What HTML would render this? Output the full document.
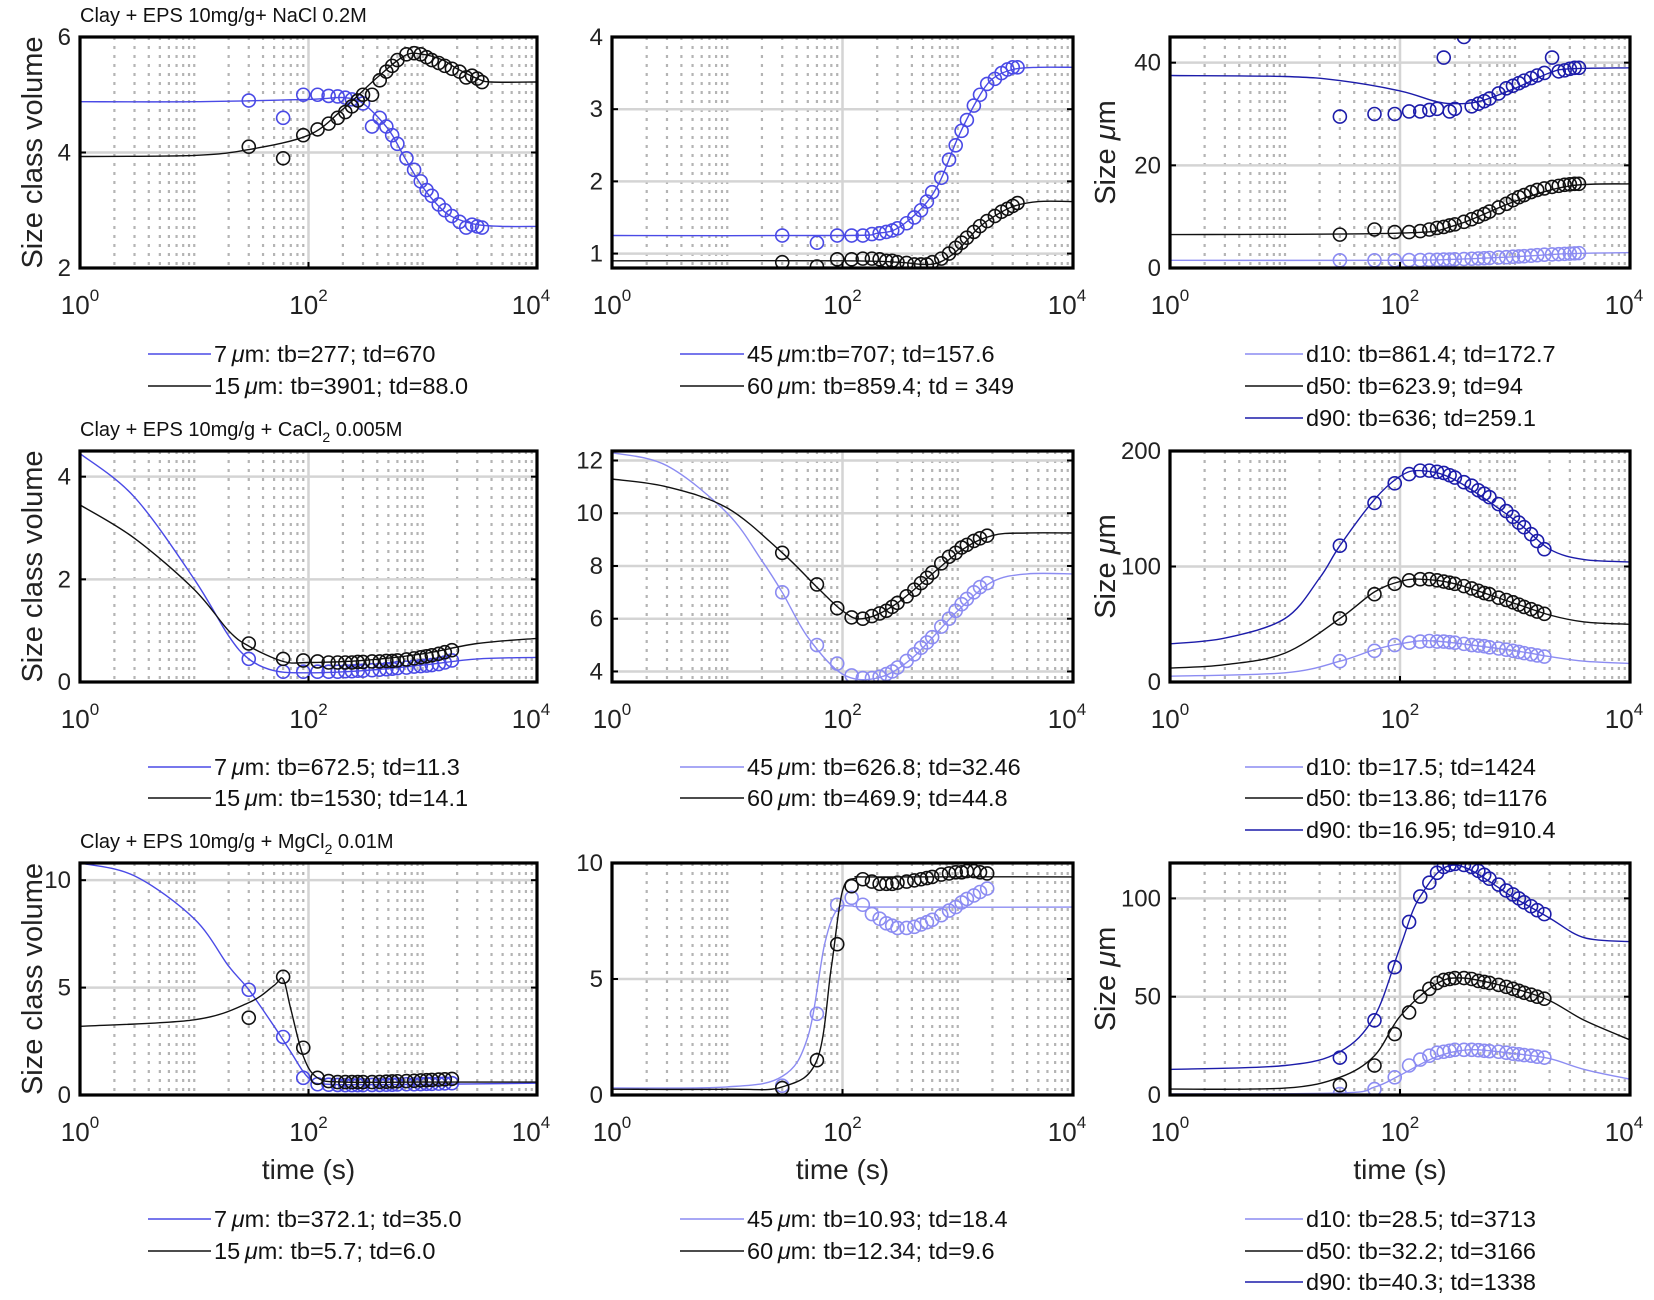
<!DOCTYPE html>
<html><head><meta charset="utf-8"><style>
html,body{margin:0;padding:0;background:#fff;}
svg{display:block;font-family:"Liberation Sans",sans-serif;}
</style></head><body>
<svg id="fig" width="1654" height="1300" viewBox="0 0 1654 1300" xmlns="http://www.w3.org/2000/svg"></svg>
<script>
// ---------- Data ----------
const T1=[30,60,90,120,150,180,210,240,270,300,360,420,480,540,600,720,840,960,1080,1200,1380,1560,1800,2100,2400,2700,3000,3300];
const T1b=[30,60,90,120,150,180,210,240,270,300,360,420,480,540,600,720,840,960,1080,1200,1380,1560,1800,2100,2400,2700,3000,3300,3600];
const T2=[30,60,90,120,150,180,210,240,270,300,360,420,480,540,600,720,840,960,1080,1200,1380,1560,1800];
const xTickLabels=["0","2","4"];

// Row 1 col 1
const r1c1_7um=[4.9,4.6,5.0,5.0,4.98,4.97,4.95,4.92,4.9,4.85,4.45,4.6,4.45,4.3,4.15,3.9,3.7,3.5,3.35,3.25,3.1,3.0,2.9,2.8,2.7,2.75,2.72,2.7];
const r1c1_15um=[4.1,3.9,4.3,4.4,4.5,4.6,4.7,4.8,4.9,5.0,5.0,5.25,5.4,5.5,5.6,5.7,5.72,5.7,5.65,5.6,5.55,5.5,5.45,5.4,5.3,5.33,5.28,5.22];
const r1c1_7um_fitT=[1,10,100,200,300,500,700,1000,1500,2000,3000,5000,10000];
const r1c1_7um_fit=[4.88,4.88,4.92,4.95,4.85,4.4,3.9,3.4,3.0,2.85,2.75,2.72,2.72];
const r1c1_15um_fitT=[1,10,30,100,200,400,700,1000,1500,2000,3000,4000,10000];
const r1c1_15um_fit=[3.93,3.95,4.05,4.3,4.75,5.3,5.68,5.7,5.6,5.45,5.28,5.22,5.22];
// Row 1 col 2
const r1c2_45um=[1.25,1.15,1.25,1.25,1.25,1.27,1.28,1.3,1.32,1.35,1.42,1.5,1.6,1.72,1.85,2.05,2.3,2.5,2.7,2.85,3.05,3.2,3.35,3.42,3.5,3.55,3.58,3.58];
const r1c2_60um=[0.88,0.82,0.92,0.92,0.93,0.93,0.92,0.9,0.9,0.88,0.87,0.85,0.85,0.85,0.88,0.93,1.0,1.08,1.15,1.22,1.3,1.38,1.45,1.52,1.58,1.62,1.66,1.7];
const r1c2_45um_fitT=[1,100,200,300,500,700,1000,1500,2000,3000,5000,10000];
const r1c2_45um_fit=[1.25,1.25,1.28,1.35,1.65,2.0,2.6,3.15,3.42,3.55,3.58,3.58];
const r1c2_60um_fitT=[1,100,300,500,700,1000,1500,2000,3000,5000,10000];
const r1c2_60um_fit=[0.9,0.9,0.88,0.85,0.88,1.05,1.35,1.5,1.65,1.72,1.72];
// Row 1 col 3
const r1c3_d10=[1.5,1.5,1.5,1.55,1.55,1.6,1.6,1.65,1.65,1.7,1.75,1.8,1.85,1.9,1.95,2.05,2.1,2.2,2.25,2.3,2.4,2.5,2.6,2.65,2.7,2.75,2.8,2.85,2.9];
const r1c3_d50=[6.5,7.5,7.0,7.0,7.2,7.5,7.8,8.0,8.3,8.5,9.0,9.5,10,10.5,11,11.8,12.5,13.2,13.8,14.2,14.8,15.2,15.5,15.8,16.0,16.2,16.3,16.4,16.4];
const r1c3_d90=[29.5,30,30,30.5,30.5,30.8,31,41,30.5,31,45,31.5,32,32.5,33,34,35,35.5,36,36.5,37,37.5,38,41,38.3,38.5,38.8,39,39];
const r1c3_d10_fitT=[1,100,300,1000,3000,10000];
const r1c3_d10_fit=[1.5,1.5,1.7,2.2,2.8,3.0];
const r1c3_d50_fitT=[1,100,300,1000,3000,10000];
const r1c3_d50_fit=[6.5,6.8,8.3,13,16,16.4];
const r1c3_d90_fitT=[1,10,30,100,200,300,500,1000,2000,3000,10000];
const r1c3_d90_fit=[37.5,37.3,36.5,34.5,32.5,32,32.5,35,38,38.8,39];
// Row 2 col 1
const r2c1_7um=[0.45,0.2,0.2,0.2,0.2,0.2,0.21,0.21,0.22,0.22,0.23,0.24,0.25,0.26,0.27,0.28,0.3,0.31,0.32,0.33,0.35,0.38,0.42];
const r2c1_15um=[0.75,0.45,0.42,0.4,0.38,0.38,0.38,0.38,0.39,0.39,0.4,0.4,0.41,0.41,0.42,0.44,0.46,0.48,0.5,0.52,0.55,0.58,0.62];
const r2c1_7um_fitT=[1,3,10,20,30,50,100,300,1000,3000,10000];
const r2c1_7um_fit=[4.45,3.6,2.0,0.9,0.45,0.22,0.18,0.22,0.33,0.45,0.48];
const r2c1_15um_fitT=[1,3,10,20,30,60,100,300,1000,3000,10000];
const r2c1_15um_fit=[3.45,2.8,1.8,1.0,0.7,0.4,0.38,0.42,0.55,0.75,0.85];
// Row 2 col 2
const r2c2_45um=[7.0,5.0,4.3,3.85,3.75,3.75,3.8,3.9,4.0,4.15,4.4,4.65,4.9,5.1,5.3,5.7,6.0,6.3,6.55,6.75,7.0,7.2,7.35];
const r2c2_60um=[8.5,7.3,6.4,6.05,6.0,6.1,6.2,6.3,6.45,6.6,6.85,7.1,7.35,7.55,7.75,8.1,8.35,8.5,8.7,8.8,8.95,9.05,9.15];
const r2c2_45um_fitT=[1,3,10,20,30,50,100,200,400,1000,2000,4000,10000];
const r2c2_45um_fit=[12.3,11.8,10,8.2,7.0,5.3,3.9,3.75,4.5,6.3,7.4,7.7,7.7];
const r2c2_60um_fitT=[1,3,10,30,60,100,150,300,1000,2000,4000,10000];
const r2c2_60um_fit=[11.3,11.0,10.2,8.5,7.2,6.3,6.0,6.6,8.5,9.15,9.25,9.25];
// Row 2 col 3
const r2c3_d10=[18,27,32,34,35,35.5,35,35,34.5,34,33,32,31.5,31,30,29,28,27,26,25,24,23,22];
const r2c3_d50=[55,76,85,88,89,89,88,87,86,85,83,81,79,77,76,73,71,69,67,65,63,61,59];
const r2c3_d90=[118,155,172,180,183,183,182,181,179,177,173,170,166,163,160,154,148,143,138,134,128,122,115];
const r2c3_d10_fitT=[1,10,30,60,100,200,1000,2000,4000,10000];
const r2c3_d10_fit=[5,8,18,28,33,35.5,27,22,18,16];
const r2c3_d50_fitT=[1,3,10,30,60,100,150,300,1000,2000,4000,10000];
const r2c3_d50_fit=[12,15,25,55,78,87,89,85,68,58,52,50];
const r2c3_d90_fitT=[1,3,10,20,30,60,100,150,300,1000,2000,4000,10000];
const r2c3_d90_fit=[33,38,55,90,118,158,178,183,175,140,115,106,104];
// Row 3 col 1
const r3c1_7um=[4.9,2.7,0.8,0.5,0.48,0.47,0.46,0.46,0.46,0.46,0.47,0.47,0.48,0.48,0.49,0.5,0.5,0.51,0.52,0.52,0.53,0.54,0.55];
const r3c1_15um=[3.6,5.5,2.2,0.8,0.65,0.6,0.6,0.6,0.6,0.6,0.6,0.61,0.62,0.63,0.64,0.65,0.66,0.68,0.69,0.7,0.72,0.73,0.75];
const r3c1_7um_fitT=[1,3,10,20,30,50,70,100,150,1000,10000];
const r3c1_7um_fit=[10.8,10.2,8.2,6.0,4.9,3.2,2.0,0.8,0.5,0.5,0.55];
const r3c1_15um_fitT=[1,10,30,50,60,70,90,120,200,1000,10000];
const r3c1_15um_fit=[3.2,3.5,4.3,5.1,5.4,4.0,1.8,0.8,0.6,0.6,0.6];
// Row 3 col 2
const r3c2_45um=[0.4,3.5,8.2,8.5,8.2,7.8,7.6,7.4,7.3,7.2,7.2,7.25,7.35,7.45,7.55,7.75,7.95,8.1,8.3,8.45,8.6,8.75,8.9];
const r3c2_60um=[0.3,1.5,6.5,9.0,9.3,9.2,9.1,9.1,9.1,9.15,9.2,9.25,9.3,9.35,9.4,9.5,9.55,9.6,9.6,9.65,9.65,9.6,9.55];
const r3c2_45um_fitT=[1,10,30,50,70,90,120,200,10000];
const r3c2_45um_fit=[0.3,0.35,0.8,2.5,6.5,8.0,8.15,8.1,8.1];
const r3c2_60um_fitT=[1,10,30,60,80,100,130,200,10000];
const r3c2_60um_fit=[0.25,0.25,0.35,1.5,5.5,8.8,9.35,9.4,9.4];
// Row 3 col 3
const r3c3_d10=[0.5,3,9,15,18,20,21.5,22,22.5,23,23,23,22.8,22.5,22.3,22,21.5,21,20.7,20.3,20,19.5,19];
const r3c3_d50=[5,15,31,42,50,54,57,58.5,59,59.5,59.5,59,58,57.5,57,56,55,54,53,52,51,50,49];
const r3c3_d90=[19,38,65,88,101,108,113,116,117,117.5,117,116,114,112,110,107,104,102,100,98,96,94,92];
const r3c3_d10_fitT=[1,30,60,100,200,400,1000,2000,4000,10000];
const r3c3_d10_fit=[0.5,1,4,10,19,23,21,18.5,13,8];
const r3c3_d50_fitT=[1,10,30,60,100,200,350,1000,2000,4000,10000];
const r3c3_d50_fit=[3,3.5,9,20,40,56,59.5,54,48,38,28];
const r3c3_d90_fitT=[1,10,30,60,100,150,300,1000,2000,4000,10000];
const r3c3_d90_fit=[13,15,22,40,75,101,117,100,90,80,78];

// ---------- Layout ----------
const MED="#4a4ae6", LIGHT="#8c8cf2", DARK="#1c1caa", BLK="#111";
const colX=[[80,537],[612,1073],[1170,1630]];
const rowY=[[37,268],[451,682],[863,1095]];
const panels=[
 {r:0,c:0,y:[2,6],ticks:[2,4,6],title:"Clay + EPS 10mg/g+ NaCl 0.2M",
  series:[{t:T1,v:r1c1_7um,ft:r1c1_7um_fitT,fv:r1c1_7um_fit,col:MED,name:"7um"},{t:T1,v:r1c1_15um,ft:r1c1_15um_fitT,fv:r1c1_15um_fit,col:BLK,name:"15um"}],
  leg:[["7","μm: tb=277; td=670",MED],["15","μm: tb=3901; td=88.0",BLK]]},
 {r:0,c:1,y:[0.8,4],ticks:[1,2,3,4],
  series:[{t:T1,v:r1c2_45um,ft:r1c2_45um_fitT,fv:r1c2_45um_fit,col:MED,name:"45um"},{t:T1,v:r1c2_60um,ft:r1c2_60um_fitT,fv:r1c2_60um_fit,col:BLK,name:"60um"}],
  leg:[["45","μm:tb=707; td=157.6",MED],["60","μm: tb=859.4; td = 349",BLK]]},
 {r:0,c:2,y:[0,45],ticks:[0,20,40],
  series:[{t:T1b,v:r1c3_d10,ft:r1c3_d10_fitT,fv:r1c3_d10_fit,col:LIGHT,name:"d10"},{t:T1b,v:r1c3_d50,ft:r1c3_d50_fitT,fv:r1c3_d50_fit,col:BLK,name:"d50"},{t:T1b,v:r1c3_d90,ft:r1c3_d90_fitT,fv:r1c3_d90_fit,col:DARK,name:"d90"}],
  leg:[["d10: tb=861.4; td=172.7","",LIGHT],["d50: tb=623.9; td=94","",BLK],["d90: tb=636; td=259.1","",DARK]]},
 {r:1,c:0,y:[0,4.5],ticks:[0,2,4],title:"CaCl",
  series:[{t:T2,v:r2c1_7um,ft:r2c1_7um_fitT,fv:r2c1_7um_fit,col:MED,name:"7um"},{t:T2,v:r2c1_15um,ft:r2c1_15um_fitT,fv:r2c1_15um_fit,col:BLK,name:"15um"}],
  leg:[["7","μm: tb=672.5; td=11.3",MED],["15","μm: tb=1530; td=14.1",BLK]]},
 {r:1,c:1,y:[3.6,12.36],ticks:[4,6,8,10,12],
  series:[{t:T2,v:r2c2_45um,ft:r2c2_45um_fitT,fv:r2c2_45um_fit,col:LIGHT,name:"45um"},{t:T2,v:r2c2_60um,ft:r2c2_60um_fitT,fv:r2c2_60um_fit,col:BLK,name:"60um"}],
  leg:[["45","μm: tb=626.8; td=32.46",LIGHT],["60","μm: tb=469.9; td=44.8",BLK]]},
 {r:1,c:2,y:[0,200],ticks:[0,100,200],
  series:[{t:T2,v:r2c3_d10,ft:r2c3_d10_fitT,fv:r2c3_d10_fit,col:LIGHT,name:"d10"},{t:T2,v:r2c3_d50,ft:r2c3_d50_fitT,fv:r2c3_d50_fit,col:BLK,name:"d50"},{t:T2,v:r2c3_d90,ft:r2c3_d90_fitT,fv:r2c3_d90_fit,col:DARK,name:"d90"}],
  leg:[["d10: tb=17.5; td=1424","",LIGHT],["d50: tb=13.86; td=1176","",BLK],["d90: tb=16.95; td=910.4","",DARK]]},
 {r:2,c:0,y:[0,10.8],ticks:[0,5,10],title:"MgCl",
  series:[{t:T2,v:r3c1_7um,ft:r3c1_7um_fitT,fv:r3c1_7um_fit,col:MED,name:"7um"},{t:T2,v:r3c1_15um,ft:r3c1_15um_fitT,fv:r3c1_15um_fit,col:BLK,name:"15um"}],
  leg:[["7","μm: tb=372.1; td=35.0",MED],["15","μm: tb=5.7; td=6.0",BLK]]},
 {r:2,c:1,y:[0,10],ticks:[0,5,10],
  series:[{t:T2,v:r3c2_45um,ft:r3c2_45um_fitT,fv:r3c2_45um_fit,col:LIGHT,name:"45um"},{t:T2,v:r3c2_60um,ft:r3c2_60um_fitT,fv:r3c2_60um_fit,col:BLK,name:"60um"}],
  leg:[["45","μm: tb=10.93; td=18.4",LIGHT],["60","μm: tb=12.34; td=9.6",BLK]]},
 {r:2,c:2,y:[0,118],ticks:[0,50,100],
  series:[{t:T2,v:r3c3_d10,ft:r3c3_d10_fitT,fv:r3c3_d10_fit,col:LIGHT,name:"d10"},{t:T2,v:r3c3_d50,ft:r3c3_d50_fitT,fv:r3c3_d50_fit,col:BLK,name:"d50"},{t:T2,v:r3c3_d90,ft:r3c3_d90_fitT,fv:r3c3_d90_fit,col:DARK,name:"d90"}],
  leg:[["d10: tb=28.5; td=3713","",LIGHT],["d50: tb=32.2; td=3166","",BLK],["d90: tb=40.3; td=1338","",DARK]]}
];
const legLine=[[148,211],[680,744],[1245,1303]];
const legY=[[354,386,418],[767,798,830],[1219,1251,1282]];

const NS="http://www.w3.org/2000/svg";
const svg=document.getElementById('fig');
function mk(tag,attrs,parent){const e=document.createElementNS(NS,tag);for(const k in attrs)e.setAttribute(k,attrs[k]);(parent||svg).appendChild(e);return e;}

function smoothPath(pts){
  let d="M"+pts[0][0].toFixed(1)+","+pts[0][1].toFixed(1);
  for(let i=0;i<pts.length-1;i++){
    const p0=pts[Math.max(0,i-1)],p1=pts[i],p2=pts[i+1],p3=pts[Math.min(pts.length-1,i+2)];
    const c1=[p1[0]+(p2[0]-p0[0])/6,p1[1]+(p2[1]-p0[1])/6];
    const c2=[p2[0]-(p3[0]-p1[0])/6,p2[1]-(p3[1]-p1[1])/6];
    d+=" C"+c1[0].toFixed(1)+","+c1[1].toFixed(1)+" "+c2[0].toFixed(1)+","+c2[1].toFixed(1)+" "+p2[0].toFixed(1)+","+p2[1].toFixed(1);
  }
  return d;
}

panels.forEach((p,pi)=>{
  const [x0,x1]=colX[p.c],[y0,y1]=rowY[p.r];
  const xs=t=>x0+(Math.log10(t))/4*(x1-x0);
  const ys=v=>y1-(v-p.y[0])/(p.y[1]-p.y[0])*(y1-y0);
  const g=mk('g',{});
  
  
  const clipId='clip'+pi;
  const cp=mk('clipPath',{id:clipId},g);
  mk('rect',{x:x0,y:y0,width:x1-x0,height:y1-y0},cp);
  const grid=mk('g',{},g);
  
  
  for(let d=0;d<4;d++)for(let k=2;k<=9;k++){
    const x=xs(k*Math.pow(10,d));
    mk('line',{x1:x,x2:x,y1:y0,y2:y1,stroke:"#b4b4b4","stroke-width":2.2,"stroke-dasharray":"3,6"},grid);
  }
  [10,1000].forEach(t=>{const x=xs(t);mk('line',{x1:x,x2:x,y1:y0,y2:y1,stroke:"#b4b4b4","stroke-width":2.2,"stroke-dasharray":"3,6"},grid);});
  mk('line',{x1:xs(100),x2:xs(100),y1:y0,y2:y1,stroke:"#d4d4d4","stroke-width":2.5},grid);
  p.ticks.forEach(v=>{const y=ys(v);if(y>y0+2&&y<y1-2)mk('line',{x1:x0,x2:x1,y1:y,y2:y,stroke:"#d4d4d4","stroke-width":2.5},grid);});
  const plot=mk('g',{"clip-path":"url(#"+clipId+")"},g);
  p.series.forEach(s=>{
    const pts=s.ft.map((t,i)=>[xs(t),ys(s.fv[i])]);
    const path=mk('path',{d:smoothPath(pts),fill:"none",stroke:s.col,"stroke-width":1.4},plot);
    
    
    s.t.forEach((t,i)=>{
      const c=mk('circle',{cx:xs(t),cy:ys(s.v[i]),r:6.5,fill:"none",stroke:s.col,"stroke-width":1.6},plot);
      
      
    });
  });
  const box=mk('rect',{x:x0,y:y0,width:x1-x0,height:y1-y0,fill:"none",stroke:"#000","stroke-width":3.2},g);
  
  
  p.ticks.forEach(v=>{
    const y=ys(v);
    const tx=mk('text',{x:x0-9,y:y+8,"text-anchor":"end","font-size":24,fill:"#222"},g);
    tx.textContent=String(v);
    
    
    mk('line',{x1:x0,x2:x0+6,y1:y,y2:y,stroke:"#000","stroke-width":2},g);
    mk('line',{x1:x1,x2:x1-6,y1:y,y2:y,stroke:"#000","stroke-width":2},g);
  });
  [0,2,4].forEach((e,i)=>{
    const x=xs(Math.pow(10,e));
    const tx=mk('text',{x:x+(i===2?-6:0),y:y1+46,"text-anchor":"middle","font-size":26,fill:"#222"},g);
    
    
    tx.appendChild(document.createTextNode("10"));
    const sup=mk('tspan',{"font-size":17,dy:-13},tx);sup.textContent=xTickLabels[i];
    mk('line',{x1:x,x2:x,y1:y1,y2:y1-6,stroke:"#000","stroke-width":2},g);
  });
  if(p.title){
    const tt=mk('text',{x:x0,y:y0-15,"font-size":20,fill:"#111"},g);
    
    
    if(p.r===0){tt.textContent=p.title;}
    else{
      tt.appendChild(document.createTextNode("Clay + EPS 10mg/g + "+p.title));
      const sb=mk('tspan',{"font-size":14,dy:6},tt);sb.textContent="2";
      const rest=mk('tspan',{dy:-6},tt);rest.textContent=p.r===1?" 0.005M":" 0.01M";
    }
  }
  if(p.c!==1){
    const cy=(y0+y1)/2, cx=p.c===0?42:1115;
    const yl=mk('text',{x:cx,y:cy,"text-anchor":"middle","font-size":29,fill:"#222",transform:"rotate(-90 "+cx+" "+cy+")"},g);
    
    
    if(p.c===0){yl.textContent="Size class volume";}
    else{yl.appendChild(document.createTextNode("Size "));const mu=mk('tspan',{"font-style":"italic"},yl);mu.textContent="μ";yl.appendChild(document.createTextNode("m"));}
  }
  if(p.r===2){
    const xl=mk('text',{x:(x0+x1)/2,y:1179,"text-anchor":"middle","font-size":28,fill:"#222"},g);
    xl.textContent="time (s)";
    
    
  }
  const lg=mk('g',{},g);
  
  
  p.leg.forEach((L,i)=>{
    const y=legY[p.r][i];
    const [lx0,lx1]=legLine[p.c];
    const ln=mk('line',{x1:lx0,x2:lx1,y1:y,y2:y,stroke:L[2],"stroke-width":1.5},lg);
    
    
    const tx=mk('text',{x:lx1+3,y:y+8,"font-size":23.5,fill:"#111"},lg);
    
    
    if(L[1]===""){tx.textContent=L[0];}
    else{
      tx.appendChild(document.createTextNode(L[0]+"\u2009"));
      const mu=mk('tspan',{"font-style":"italic"},tx);mu.textContent="μ";
      tx.appendChild(document.createTextNode(L[1].slice(1)));
    }
  });
});
</script>
</body></html>
